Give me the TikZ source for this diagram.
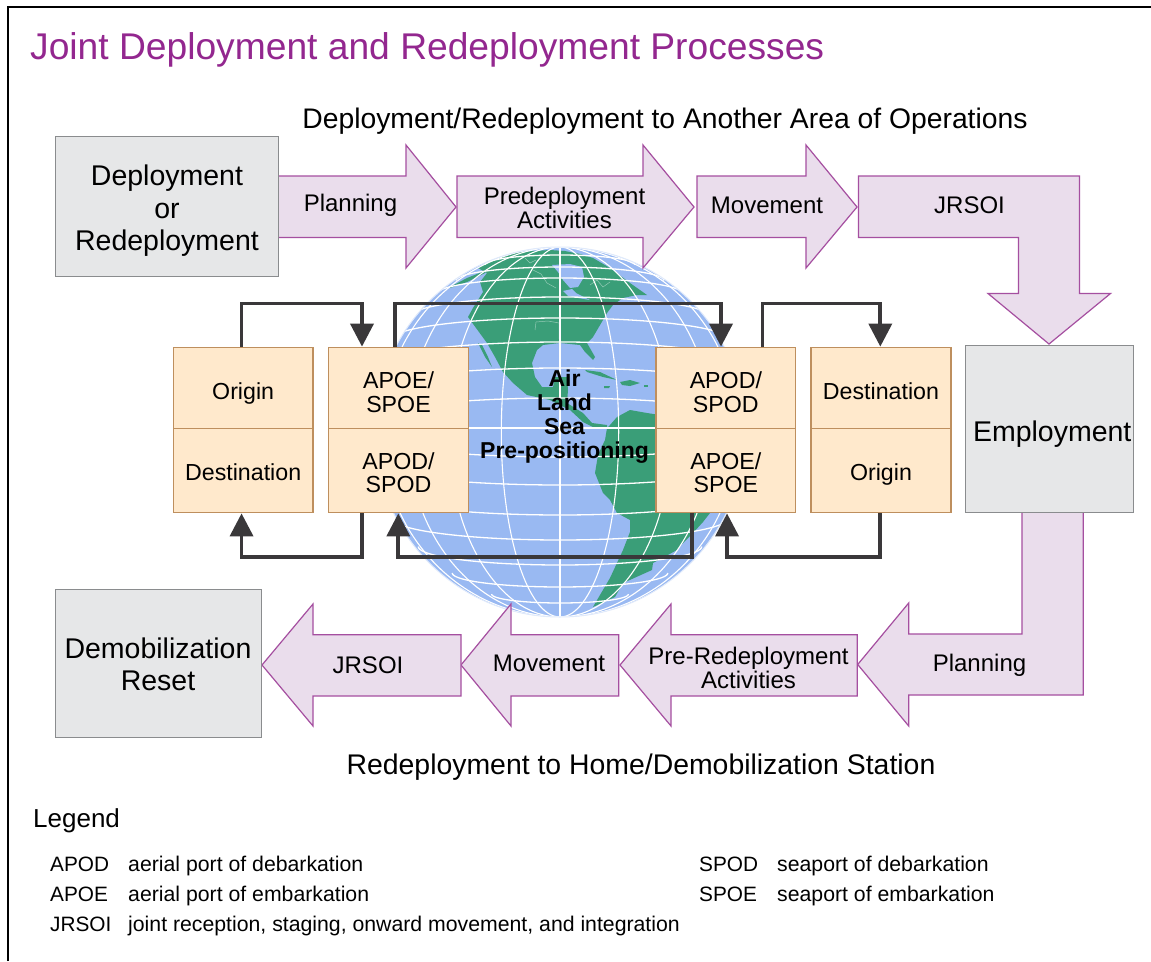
\documentclass[tikz,border=0pt]{standalone}
\usepackage{fontspec}
\setmainfont{Liberation Sans}
\usetikzlibrary{arrows.meta}
\definecolor{titlepurple}{HTML}{93278F}
\definecolor{flowfill}{HTML}{EADDEC}
\definecolor{flowline}{HTML}{A54FA0}
\definecolor{greyfill}{HTML}{E6E7E8}
\definecolor{greyline}{HTML}{8A8C8E}
\definecolor{cellfill}{HTML}{FFE9CC}
\definecolor{cellline}{HTML}{BE8F5E}
\definecolor{connline}{HTML}{3A383A}
\definecolor{ocean}{HTML}{99B9F2}
\definecolor{land}{HTML}{3A9E78}
\newcommand{\pxf}[2]{\fontsize{#1}{#2}\selectfont}
\tikzset{
  flow/.style={draw=flowline,fill=flowfill,line width=1.2pt,line join=miter},
  flowtext/.style={font=\pxf{24}{24},align=center,inner sep=0pt},
  greybox/.style={draw=greyline,fill=greyfill,line width=1pt,inner sep=0pt},
  greytext/.style={font=\pxf{28.5}{32.5},align=center,inner sep=0pt},
  cell/.style={draw=cellline,fill=cellfill,line width=1.4pt,minimum width=139.7pt,inner sep=0pt},
  celltext/.style={font=\pxf{23.2}{23.5},align=center,inner sep=0pt},
  conn/.style={draw=connline,line width=3.7pt,line join=miter},
  connarrow/.style={conn,-{Triangle[width=23pt,length=23pt]}},
  legendtext/.style={font=\pxf{20.8}{25},anchor=base west,inner sep=0pt},
  legenddef/.style={font=\pxf{21.25}{25},anchor=base west,inner sep=0pt},
  heading/.style={font=\pxf{28.3}{32},anchor=base,inner sep=0pt},
  landdetail/.style={draw=white!45!land,line width=.5pt},
}
\begin{document}
\begin{tikzpicture}[x=1pt,y=-1pt]
\useasboundingbox (0,0) rectangle (1151,961);
\fill[white] (0,0) rectangle (1151,961);
\draw[black,line width=2.2pt] (8.3,961) -- (8.3,6.7) -- (1151,6.7);

% globe
\def\gx{560}\def\gy{432}\def\gr{185}
\begin{scope}
\clip (\gx,\gy) circle (\gr);
\fill[ocean] (\gx,\gy) circle (\gr);
% North and Central America
\fill[land] (478,268) -- (493,260) -- (513,253) -- (533,251) -- (550,250) -- (565,251) -- (580,254) -- (593,258) -- (610,268) -- (630,283) -- (647,295) -- (637,295) -- (623,298) -- (613,305) -- (607,313) -- (603,320) -- (593,337) -- (587,343) -- (595,357) -- (593,360) -- (585,352) -- (580,345) -- (560,343) -- (543,345) -- (537,350) -- (532,363) -- (535,377) -- (542,387) -- (553,387) -- (555,377) -- (567,377) -- (568,390) -- (567,403) -- (583,413) -- (592,423) -- (607,425) -- (607,428) -- (593,427) -- (583,422) -- (570,410) -- (550,400) -- (527,395) -- (513,383) -- (503,372) -- (495,357) -- (487,343) -- (468,317) -- (473,308) -- (483,292) -- (480,282) -- (487,273) -- cycle;
\fill[land] (478,343) -- (485,357) -- (492,367) -- (488,357) -- (482,345) -- cycle;
\fill[land] (450,287) -- (467,278) -- (487,270) -- (485,273) -- (467,282) -- (450,288) -- cycle;
% Hudson Bay and Great Lakes
\fill[ocean] (552,265) -- (570,264) -- (582,267) -- (584,277) -- (578,287) -- (570,288) -- (563,280) -- (558,272) -- cycle;
\fill[ocean] (563,291) -- (572,289) -- (576,293) -- (584,297) -- (590,300) -- (578,298) -- (568,296) -- cycle;
% Caribbean
\fill[land] (585,370) -- (600,372) -- (617,380) -- (603,377) -- (587,372) -- cycle;
\fill[land] (620,382) -- (630,380) -- (640,383) -- (630,386) -- (622,385) -- cycle;
\fill[land] (604,386) -- (610,386) -- (609,388) -- (604,388) -- cycle;
\fill[land] (644,385) -- (648,385) -- (648,387) -- (644,387) -- cycle;
% South America
\fill[land] (607,428) -- (610,425) -- (617,417) -- (630,410) -- (647,413) -- (660,415) -- (700,440) -- (725,490) -- (710,513) -- (703,522) -- (693,533) -- (683,543) -- (677,550) -- (653,563) -- (652,570) -- (623,583) -- (615,597) -- (593,607) -- (600,595) -- (610,578) -- (623,550) -- (630,532) -- (630,520) -- (617,513) -- (610,500) -- (603,493) -- (595,473) -- (598,455) -- (605,440) -- cycle;
% faint land detail
\draw[landdetail] (535,330) -- (536,322) -- (548,321) -- (559,323) -- (559,339);
\draw[landdetail] (533,270) -- (541,274) -- (547,283) -- (556,288);
\draw[landdetail] (590,285) -- (597,280) -- (603,287) -- (610,282);
\draw[landdetail] (536,260) -- (530,263) -- (525,258);
% graticule
\foreach \lam in {18.5,37,55.5,74} {
  \draw[white,line width=1.1pt] (\gx,\gy) ellipse [x radius={\gr*sin(\lam)}, y radius=\gr];
}
\draw[white,line width=1.1pt] (\gx,\gy-\gr) -- (\gx,\gy+\gr);
\draw[white,line width=1.3pt] (\gx-\gr,428) -- (\gx+\gr,428);
\foreach \off in {30,60,86,110,131,150,161,173} {
  \pgfmathsetmacro{\cho}{1.14*\gr*sqrt(1-(\off/\gr)^2)}
  \pgfmathsetmacro{\bb}{0.13*\cho}
  \draw[white,line width=1.3pt] plot[domain=0:180,samples=41,smooth] ({\gx+\cho*cos(\x)},{428-\off+\bb*(1-sin(\x))});
}
\foreach \off in {29,57,87,112,137,159,175} {
  \pgfmathsetmacro{\cho}{1.14*\gr*sqrt(1-(\off/\gr)^2)}
  \pgfmathsetmacro{\bb}{0.13*\cho}
  \draw[white,line width=1.3pt] plot[domain=0:180,samples=41,smooth] ({\gx+\cho*cos(\x)},{428+\off-\bb*(1-sin(\x))});
}
\end{scope}
\draw[white!70!ocean,line width=1pt] (\gx,\gy) circle (\gr);

% block arrows
\draw[flow] (278,176) -- (406,176) -- (406,145) -- (456,207) -- (406,268) -- (406,237.5) -- (278,237.5) -- cycle;
\draw[flow] (457,176) -- (643,176) -- (643,145) -- (694,207) -- (643,268) -- (643,237.5) -- (457,237.5) -- cycle;
\draw[flow] (697,176) -- (806,176) -- (806,145) -- (857,207) -- (806,268) -- (806,237.5) -- (697,237.5) -- cycle;
\draw[flow] (858.5,176) -- (1079.5,176) -- (1079.5,293.5) -- (1110.5,293.5) -- (1049,344) -- (988,293.5) -- (1018.5,293.5) -- (1018.5,237.5) -- (858.5,237.5) -- cycle;
\draw[flow] (1022,512) -- (1083.3,512) -- (1083.3,695) -- (908.7,695) -- (908.7,726) -- (857.7,664.5) -- (908.7,603) -- (908.7,634) -- (1022,634) -- cycle;
\draw[flow] (857.3,634.7) -- (857.3,696) -- (671,696) -- (671,726) -- (620,665) -- (671,604) -- (671,634.7) -- cycle;
\draw[flow] (618.7,634.7) -- (618.7,696) -- (511,696) -- (511,726) -- (461,665) -- (511,604) -- (511,634.7) -- cycle;
\draw[flow] (461,634.7) -- (461,696) -- (313,696) -- (313,726) -- (262,665) -- (313,604) -- (313,634.7) -- cycle;

% boxes
\node[greybox,minimum width=223pt,minimum height=140pt] (deploy) at (166.5,206) {};
\node[greytext] (deployT) at (167,211) {Deployment\\or\\Redeployment};
\node[greybox,minimum width=168.5pt,minimum height=167pt] (employ) at (1049.7,428.5) {};
\node[greytext] (employT) at (1052.2,434) {Employment};
\node[greybox,minimum width=206pt,minimum height=148pt] (demob) at (158,663) {};
\node[greytext] (demobT) at (158,664.5) {Demobilization\\Reset};

\node[cell,minimum height=81.4pt] (oTop) at (243.15,388) {};
\node[cell,minimum height=84pt] (oBot) at (243.15,470.7) {};
\node[cell,minimum height=81.4pt] (aTop) at (398.5,388) {};
\node[cell,minimum height=84pt] (aBot) at (398.5,470.7) {};
\node[cell,minimum height=81.4pt] (dTop) at (725.85,388) {};
\node[cell,minimum height=84pt] (dBot) at (725.85,470.7) {};
\node[cell,minimum height=81.4pt] (rTop) at (881,388) {};
\node[cell,minimum height=84pt] (rBot) at (881,470.7) {};
\node[celltext] (oTopT) at (243.15,393) {Origin};
\node[celltext] (oBotT) at (243.15,472.7) {Destination};
\node[celltext] (aTopT) at (398.5,392) {APOE/\\SPOE};
\node[celltext] (aBotT) at (398.5,472.7) {APOD/\\SPOD};
\node[celltext] (dTopT) at (725.85,392) {APOD/\\SPOD};
\node[celltext] (dBotT) at (725.85,472.7) {APOE/\\SPOE};
\node[celltext] (rTopT) at (881,391) {Destination};
\node[celltext] (rBotT) at (881,474.7) {Origin};

% connectors
\draw[connarrow] ([xshift=-1.6pt]oTop.north) -- ++(0,-43) -| ([xshift=-36.5pt]aTop.north);
\draw[connarrow] ([xshift=-36.5pt]aBot.south) -- ++(0,43.5) -| ([xshift=-1.6pt]oBot.south);
\draw[connarrow] ([xshift=-3.5pt]aTop.north) -- ++(0,-43) -| ([xshift=-4.85pt]dTop.north);
\draw[connarrow] ([xshift=36.5pt]dTop.north) -- ++(0,-43) -| ([xshift=-.7pt]rTop.north);
\draw[connarrow] ([xshift=-.7pt]rBot.south) -- ++(0,43.5) -| ([xshift=1.2pt]dBot.south);
\draw[connarrow] ([xshift=-34pt]dBot.south) -- ++(0,43.5) -| ([xshift=-.2pt]aBot.south);

% labels
\node[font=\pxf{37.2}{40},text=titlepurple,anchor=base west,inner sep=0pt] (title) at (30,59) {Joint Deployment and Redeployment Processes};
\node[heading] (top) at (665,128.6) {Deployment/Redeployment to Another Area of Operations};
\node[heading,font=\pxf{28.4}{32}] (bottom) at (641,774) {Redeployment to Home/Demobilization Station};
\node[flowtext] (l1) at (350.5,205.5) {Planning};
\node[flowtext] (l2) at (564.5,207.5) {Predeployment\\Activities};
\node[flowtext] (l3) at (767,205.5) {Movement};
\node[flowtext] (l4) at (969.5,205.5) {JRSOI};
\node[flowtext] (l5) at (979.5,665) {Planning};
\node[flowtext] (l6) at (748.5,667.5) {Pre-Redeployment\\Activities};
\node[flowtext] (l7) at (549,663.5) {Movement};
\node[flowtext] (l8) at (368,665) {JRSOI};
\node[font=\bfseries\pxf{23}{24},align=center,inner sep=0pt] (modes) at (564.5,416.5) {Air\\Land\\Sea\\Pre-positioning};

\node[font=\pxf{26}{28},anchor=base west,inner sep=0pt] (legend) at (33,827.5) {Legend};
\node[legendtext] (k1) at (50,871.5) {APOD};
\node[legenddef] (v1) at (128,871.5) {aerial port of debarkation};
\node[legendtext] (k2) at (50,901.5) {APOE};
\node[legenddef] (v2) at (128,901.5) {aerial port of embarkation};
\node[legendtext] (k3) at (50,931.2) {JRSOI};
\node[legenddef] (v3) at (128,931.2) {joint reception, staging, onward movement, and integration};
\node[legendtext] (k4) at (699,871.5) {SPOD};
\node[legenddef] (v4) at (777,871.5) {seaport of debarkation};
\node[legendtext] (k5) at (699,901.5) {SPOE};
\node[legenddef] (v5) at (777,901.5) {seaport of embarkation};
\end{tikzpicture}
\end{document}
